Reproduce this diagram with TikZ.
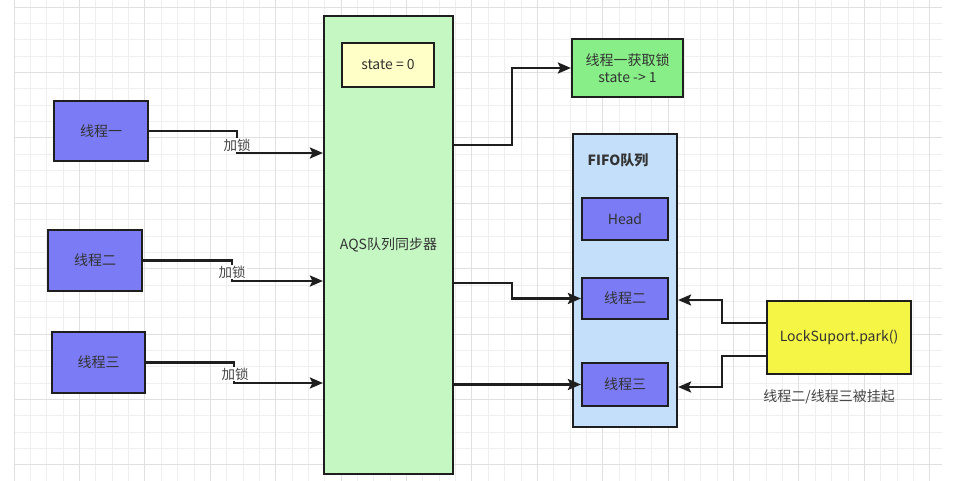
\documentclass[tikz,border=0pt]{standalone}
\usepackage{fontspec}
\setmainfont{Noto Sans CJK SC}
\usetikzlibrary{arrows.meta}
\definecolor{gridminor}{HTML}{EFEFEF}
\definecolor{gridmajor}{HTML}{E0E0E0}
\definecolor{purplefill}{HTML}{7B7BF5}
\definecolor{aqsgreen}{HTML}{C5F7C3}
\definecolor{stateyellow}{HTML}{FFFFC8}
\definecolor{gotgreen}{HTML}{88EE88}
\definecolor{fifoblue}{HTML}{C4DFFA}
\definecolor{lockyellow}{HTML}{F5F545}
\definecolor{txt}{HTML}{333333}
\definecolor{lbltxt}{HTML}{444444}
\definecolor{edge}{HTML}{1E1E1E}
\tikzset{
  box/.style={draw=edge, line width=2.2pt, inner sep=0pt, align=center,
    text=txt, font=\fontsize{14}{17}\selectfont},
  thread/.style={box, fill=purplefill},
  conn/.style={draw=edge, line width=2.4pt,
    -{Stealth[length=13pt,width=11pt,inset=2.5pt]}},
  lbl/.style={text=lbltxt, font=\fontsize{13.5}{15}\selectfont, fill=white, inner sep=1pt},
}
\begin{document}
\begin{tikzpicture}[x=1pt,y=-1pt]
\useasboundingbox (0,0) rectangle (956,481);
\fill[white] (0,0) rectangle (956,481);
% grid
\foreach \i in {0,...,56} {
  \pgfmathsetmacro\xx{14+\i*16.35}
  \draw[gridminor, line width=0.7pt] (\xx,0) -- (\xx,481);
}
\foreach \j in {0,...,28} {
  \pgfmathsetmacro\yy{7+\j*16.35}
  \draw[gridminor, line width=0.7pt] (14,\yy) -- (942,\yy);
}
\foreach \i in {0,4,...,56} {
  \pgfmathsetmacro\xx{14+\i*16.35}
  \draw[gridmajor, line width=0.9pt] (\xx,0) -- (\xx,481);
}
\foreach \j in {0,4,...,28} {
  \pgfmathsetmacro\yy{7+\j*16.35}
  \draw[gridmajor, line width=0.9pt] (14,\yy) -- (942,\yy);
}

% nodes
\node[thread, minimum width=94pt, minimum height=60pt] (t1) at (101,131) {线程一};
\node[thread, minimum width=94pt, minimum height=61pt] (t2) at (95,260.5) {线程二};
\node[thread, minimum width=93pt, minimum height=61pt] (t3) at (98.5,362.5) {线程三};

\node[box, fill=aqsgreen, minimum width=129pt, minimum height=458pt] (aqs) at (388.5,245) {AQS队列同步器};
\node[box, fill=stateyellow, minimum width=92pt, minimum height=44pt] (state) at (388,65) {state = 0};

\node[box, fill=gotgreen, minimum width=111pt, minimum height=58pt] (got) at (627.5,68) {线程一获取锁\\state -> 1};

\node[box, fill=fifoblue, minimum width=104pt, minimum height=293pt] (fifo) at (625,280.5) {};
\node[text=txt, font=\bfseries\fontsize{14}{16}\selectfont] (fifot) at (618,160) {FIFO队列};
\node[thread, minimum width=86pt, minimum height=42pt] (head) at (625,219) {Head};
\node[thread, minimum width=86pt, minimum height=41pt] (q2) at (625,298.5) {线程二};
\node[thread, minimum width=86pt, minimum height=43pt] (q3) at (625,384.5) {线程三};

\node[box, fill=lockyellow, minimum width=144pt, minimum height=73pt] (lock) at (839,337.5) {LockSuport.park()};
\node[text=lbltxt, font=\fontsize{14}{16}\selectfont] (susp) at (829,397) {线程二/线程三被挂起};

% helper coordinates
\coordinate (y1) at (0,153);
\coordinate (y2) at (0,281);
\coordinate (y3) at (0,383);
\coordinate (ya) at (0,145);
\coordinate (yb) at (0,283);
\coordinate (yl1) at (0,323);
\coordinate (yl2) at (0,356);
\coordinate (yf1) at (0,300);
\coordinate (yf2) at (0,387);

% thread -> AQS
\draw[conn] (t1.east) -- (237,131) -- (237,153) -- (aqs.west |- y1);
\node[lbl] (l1) at (237,145) {加锁};
\draw[conn] (t2.east) -- (232,260.5) -- (232,281) -- (aqs.west |- y2);
\node[lbl] (l2) at (232,272) {加锁};
\draw[conn] (t3.east) -- (234,362.5) -- (234,383) -- (aqs.west |- y3);
\node[lbl] (l3) at (235,374) {加锁};

% AQS -> right
\draw[conn] (aqs.east |- ya) -- (512,145) -- (512,68) -- (got.west);
\draw[conn] (aqs.east |- yb) -- (512,283) -- (512,298.5) -- (q2.west);
\draw[conn] (aqs.east |- q3.west) -- (q3.west);

% LockSupport -> FIFO
\draw[conn] (lock.west |- yl1) -- (722,323) -- (722,300) -- (fifo.east |- yf1);
\draw[conn] (lock.west |- yl2) -- (722,356) -- (722,387) -- (fifo.east |- yf2);
\end{tikzpicture}
\end{document}
